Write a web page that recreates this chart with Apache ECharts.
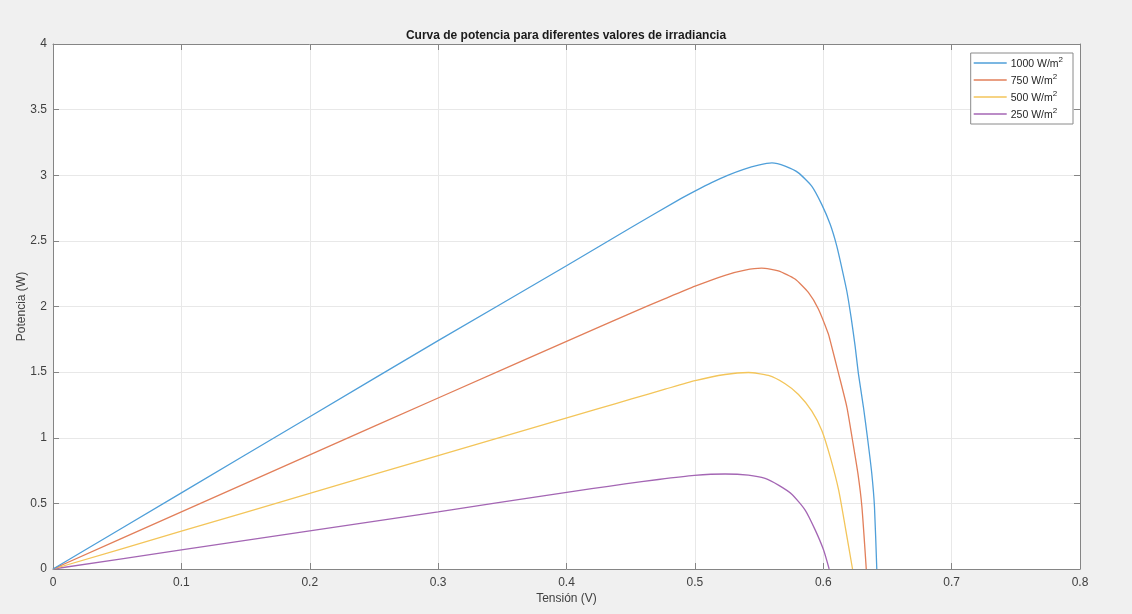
<!DOCTYPE html>
<html>
<head>
<meta charset="utf-8">
<script src="https://cdn.jsdelivr.net/npm/echarts@6/dist/echarts.min.js"></script>
<style>
html,body{margin:0;padding:0;background:#f0f0f0;}
#chart{width:1132px;height:614px;}
</style>
</head>
<body>
<div id="chart"></div>
<script>
// Data: [Tensión (V), Potencia (W)]
const irr1000 = [[0,0],[0.1,0.58],[0.2,1.16],[0.3,1.74],[0.4,2.31],[0.45,2.60],[0.4867,2.809],[0.5,2.879],[0.513,2.944],[0.526,3.001],[0.538,3.045],[0.5495,3.077],[0.56,3.094],[0.5703,3.069],[0.5807,3.018],[0.591,2.917],[0.5988,2.778],[0.6054,2.626],[0.6105,2.462],[0.6144,2.297],[0.6183,2.12],[0.6217,1.917],[0.6248,1.70],[0.6274,1.487],[0.6313,1.234],[0.6347,0.981],[0.6378,0.728],[0.6399,0.475],[0.6417,0]];
const irr750 = [[0,0],[0.1,0.435],[0.2,0.87],[0.3,1.303],[0.4248,1.841],[0.4507,1.952],[0.4768,2.06],[0.5002,2.155],[0.5235,2.238],[0.5391,2.277],[0.552,2.292],[0.565,2.272],[0.578,2.209],[0.5884,2.107],[0.5962,1.981],[0.604,1.791],[0.6054,1.74],[0.612,1.487],[0.6184,1.234],[0.6228,0.981],[0.627,0.728],[0.6301,0.475],[0.6335,0]];
const irr500 = [[0,0],[0.1,0.288],[0.2,0.576],[0.3,0.864],[0.4248,1.222],[0.4507,1.296],[0.4768,1.370],[0.5002,1.435],[0.5235,1.482],[0.5417,1.497],[0.5573,1.475],[0.5703,1.412],[0.5807,1.33],[0.591,1.205],[0.5988,1.057],[0.6054,0.854],[0.612,0.601],[0.6171,0.323],[0.6228,0]];
const irr250 = [[0,0],[0.1,0.145],[0.2,0.29],[0.3,0.435],[0.3936,0.575],[0.4196,0.612],[0.4456,0.648],[0.4716,0.682],[0.4996,0.713],[0.5235,0.724],[0.5417,0.715],[0.5547,0.690],[0.5651,0.639],[0.5755,0.570],[0.5859,0.449],[0.5937,0.298],[0.6002,0.146],[0.6046,0]];
const seriesNames = ['1000 W/m2','750 W/m2','500 W/m2','250 W/m2'];
const seriesColors = ['#4f9fd9','#e27f5a','#f3c55a','#a466b4'];
const titleText = 'Curva de potencia para diferentes valores de irradiancia';
const xName = 'Tensión (V)';
const yName = 'Potencia (W)';

const allData = [irr1000, irr750, irr500, irr250];
const axisColor = '#858585';
const labelColor = '#404040';
const fontFam = '"Liberation Sans", Arial, Helvetica, sans-serif';
const lineIcon = 'path://M0,0H34V1.3H0Z';

const chart = echarts.init(document.getElementById('chart'), null, {renderer:'canvas'});
const option = {
  backgroundColor: '#f0f0f0',
  animation: false,
  textStyle: {fontFamily: fontFam},
  title: {
    text: titleText, left: 'center', top: 25,
    textStyle: {fontSize: 12, fontWeight: 'bold', color: '#1a1a1a', fontFamily: fontFam}
  },
  grid: {left: 53, right: 52, top: 44, bottom: 45, show: true, backgroundColor: '#ffffff', borderWidth: 0, containLabel: false},
  legend: {
    orient: 'vertical', right: 59, top: 53,
    backgroundColor: '#ffffff', borderColor: '#8a8a8a', borderWidth: 1, borderRadius: 0,
    padding: [3, 10, 3, 3], itemGap: 3, itemWidth: 33, itemHeight: 14,
    data: seriesNames.map(function(n){ return {name: n, icon: lineIcon}; }),
    formatter: function(name){ return '{a|' + name.slice(0, -1) + '}{s|2}'; },
    textStyle: {
      color: '#262626', fontSize: 11, fontFamily: fontFam, padding: [0,0,0,-1],
      rich: {
        a: {fontSize: 10.5, color: '#262626', fontFamily: fontFam, verticalAlign: 'bottom'},
        s: {fontSize: 8, color: '#262626', fontFamily: fontFam, verticalAlign: 'top', padding: [0,0,6,0]}
      }
    }
  },
  xAxis: [{
    type: 'value', min: 0, max: 0.8, interval: 0.1, position: 'bottom',
    name: xName, nameLocation: 'middle', nameGap: 24, nameMoveOverlap: false,
    nameTextStyle: {fontSize: 12, color: labelColor, fontFamily: fontFam},
    axisLine: {show: true, onZero: false, lineStyle: {color: axisColor, width: 1}},
    axisTick: {show: true, inside: true, length: 6, lineStyle: {color: axisColor}},
    axisLabel: {fontSize: 12, color: labelColor, margin: 8, fontFamily: fontFam},
    splitLine: {show: true, lineStyle: {color: '#e8e8e8', width: 1}}
  },{
    type: 'value', min: 0, max: 0.8, interval: 0.1, position: 'top',
    axisLine: {show: true, onZero: false, lineStyle: {color: axisColor, width: 1}},
    axisTick: {show: true, inside: true, length: 6, lineStyle: {color: axisColor}},
    axisLabel: {show: false}, splitLine: {show: false}
  }],
  yAxis: [{
    type: 'value', min: 0, max: 4, interval: 0.5, position: 'left',
    name: yName, nameLocation: 'middle', nameGap: 25, nameRotate: 90, nameMoveOverlap: false,
    nameTextStyle: {fontSize: 12, color: labelColor, fontFamily: fontFam},
    axisLine: {show: true, onZero: false, lineStyle: {color: axisColor, width: 1}},
    axisTick: {show: true, inside: true, length: 6, lineStyle: {color: axisColor}},
    axisLabel: {fontSize: 12, color: labelColor, margin: 6, fontFamily: fontFam},
    splitLine: {show: true, lineStyle: {color: '#e8e8e8', width: 1}}
  },{
    type: 'value', min: 0, max: 4, interval: 0.5, position: 'right',
    axisLine: {show: true, onZero: false, lineStyle: {color: axisColor, width: 1}},
    axisTick: {show: true, inside: true, length: 6, lineStyle: {color: axisColor}},
    axisLabel: {show: false}, splitLine: {show: false}
  }],
  series: seriesNames.map(function(n, i){
    return {
      name: n, type: 'line', xAxisIndex: 0, yAxisIndex: 0,
      data: allData[i], showSymbol: false, symbol: 'none',
      smooth: 0.2,
      color: seriesColors[i],
      itemStyle: {color: seriesColors[i]},
      lineStyle: {color: seriesColors[i], width: 1.3},
      z: 10 - i
    };
  })
};
chart.setOption(option);
</script>
</body>
</html>
